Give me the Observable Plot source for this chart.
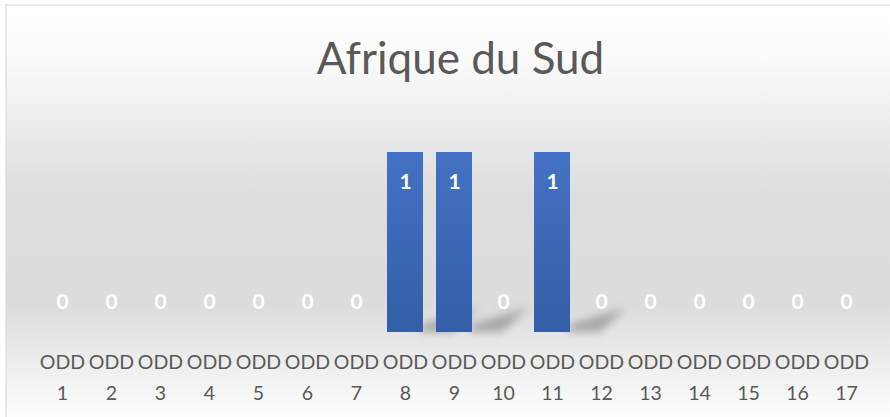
<!DOCTYPE html>
<html><head><meta charset="utf-8">
<script src="https://cdn.jsdelivr.net/npm/d3@7"></script>
<script src="https://cdn.jsdelivr.net/npm/@observablehq/plot@0.6"></script>
<style>
html,body{margin:0;padding:0;background:#fff;}
</style>
</head><body><div id="chart"></div>
<script>
const title = "Afrique du Sud";
const categories = ["1","2","3","4","5","6","7","8","9","10","11","12","13","14","15","16","17"];
const values = [0,0,0,0,0,0,0,1,1,0,1,0,0,0,0,0,0];
const prefix = "ODD";

const data = categories.map((c, i) => ({cat: c, value: values[i]}));
const W = 890, H = 417;
const font = "Lato, 'Open Sans', sans-serif";

const chart = Plot.plot({
  width: W, height: H,
  marginLeft: 31, marginRight: 13, marginTop: 152, marginBottom: 85,
  style: {fontFamily: font, background: "transparent", overflow: "visible"},
  x: {domain: categories, padding: 0.265, label: null, tickSize: 0, tickPadding: 0},
  y: {domain: [0, 1], axis: null},
  marks: [
    Plot.barY(data.filter(d => d.value > 0), {x: "cat", y: "value", fill: "url(#barGrad)", className: "bars"}),
    Plot.text(data.filter(d => d.value > 0), {x: "cat", y: "value", text: d => String(d.value), fill: "white", fontWeight: "bold", fontSize: 21, dy: 30}),
    Plot.text(data.filter(d => d.value === 0), {x: "cat", y: "value", text: d => String(d.value), fill: "white", fontWeight: "bold", fontSize: 21, dy: -30}),
    Plot.axisX({tickFormat: d => prefix + "\n" + d, fontSize: 19.5, fill: "#595959", tickSize: 0, tickPadding: 14, lineHeight: 1.6}),
    Plot.text([title], {frameAnchor: "top", dy: -110, dx: 6, fontSize: 44, fill: "#595959", fontWeight: "normal"})
  ]
});

// background, gradients, shadows
const svg = d3.select(chart);
const defs = svg.insert("defs", ":first-child");
const bg = defs.append("linearGradient").attr("id", "bgGrad").attr("x1", 0).attr("y1", 0).attr("x2", 0).attr("y2", 1);
bg.append("stop").attr("offset", "0%").attr("stop-color", "#ffffff");
bg.append("stop").attr("offset", "12%").attr("stop-color", "#fbfbfb");
bg.append("stop").attr("offset", "45%").attr("stop-color", "#dedede");
bg.append("stop").attr("offset", "72%").attr("stop-color", "#dcdcdc");
bg.append("stop").attr("offset", "100%").attr("stop-color", "#ffffff");
const bar = defs.append("linearGradient").attr("id", "barGrad").attr("x1", 0).attr("y1", 0).attr("x2", 0).attr("y2", 1);
bar.append("stop").attr("offset", "0%").attr("stop-color", "#4472c4");
bar.append("stop").attr("offset", "100%").attr("stop-color", "#335ea8");
defs.append("filter").attr("id", "blur").attr("x", "-50%").attr("y", "-50%").attr("width", "200%").attr("height", "200%")
  .append("feGaussianBlur").attr("stdDeviation", 4);

svg.insert("rect", "defs + *").attr("x", 6).attr("y", 5).attr("width", W).attr("height", H)
  .attr("fill", "url(#bgGrad)").attr("stroke", "#d9d9d9").attr("stroke-width", 1.2);

// perspective shadows behind bars
const barsG = svg.select("g.bars");
const shadowG = svg.insert("g", "g.bars").attr("filter", "url(#blur)").attr("opacity", 0.55);
barsG.selectAll("rect").each(function() {
  const r = d3.select(this);
  const x = +r.attr("x"), y = +r.attr("y"), w = +r.attr("width"), h = +r.attr("height");
  const b = y + h;
  shadowG.append("polygon")
    .attr("points", [[x + w - 4, b], [x + w, b - 8], [x + w + 56, b - 24], [x + w + 30, b]].map(p => p.join(",")).join(" "))
    .attr("fill", "#777777");
});

document.getElementById("chart").appendChild(chart);
</script>
</body></html>
